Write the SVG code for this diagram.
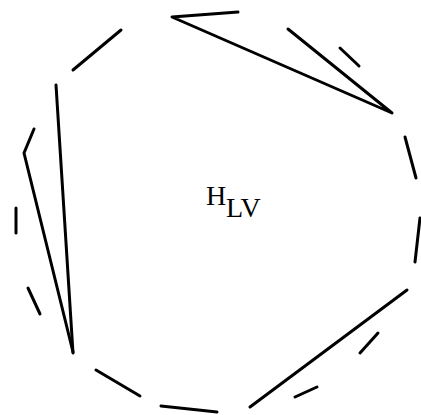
<svg xmlns="http://www.w3.org/2000/svg" width="421" height="415" viewBox="0 0 421 415">
<style>
.s{stroke:#000;stroke-width:3;fill:none;stroke-linecap:round;stroke-linejoin:round}
.t{font-family:"Liberation Serif","DejaVu Serif",serif;font-size:28px;fill:#000}
</style>
<rect width="421" height="415" fill="#fff"/>
<g id="connectors">
<path class="s" d="M238,12 L172,17 L392,113 L288,29"/>
<line class="s" x1="73" y1="70" x2="121" y2="30"/>
<line class="s" x1="340" y1="48" x2="359" y2="66"/>
<line class="s" x1="405" y1="137" x2="416" y2="178"/>
<line class="s" x1="56" y1="85" x2="73" y2="353"/>
<path class="s" d="M34,129 L24,153 L73,352"/>
<line class="s" x1="16" y1="208" x2="16" y2="233"/>
<line class="s" x1="28" y1="288" x2="40" y2="314"/>
<line class="s" x1="96" y1="370" x2="140" y2="396"/>
<line class="s" x1="161" y1="406" x2="217" y2="412"/>
<line class="s" x1="250" y1="407" x2="407" y2="290"/>
<line class="s" x1="360" y1="353" x2="378" y2="333"/>
<line class="s" x1="295" y1="397" x2="317" y2="387"/>
<line class="s" x1="415" y1="262" x2="420" y2="218"/>
</g>
<g id="label">
<text class="t" x="206" y="205">H</text>
<text class="t" x="226" y="217">LV</text>
</g>
</svg>
